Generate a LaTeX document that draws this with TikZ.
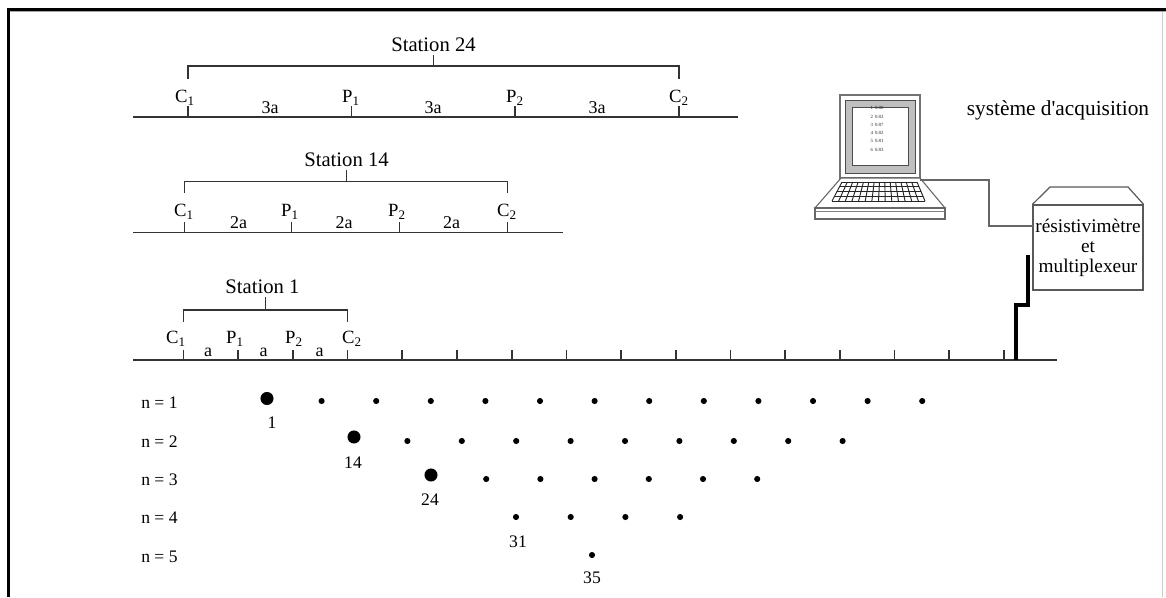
\documentclass[tikz,border=0pt]{standalone}
\usepackage{fontspec}
\setmainfont{Liberation Serif}[Ligatures=TeXOff]
\begin{document}
\begin{tikzpicture}[x=0.75pt,y=-0.75pt,
  ink/.style={draw=black!80, line width=1.3pt},
  stationlbl/.style={font=\fontsize{15.5}{17}\selectfont, inner sep=0pt, text=black},
  elec/.style={font=\fontsize{14}{16}\selectfont, inner sep=0pt, text=black},
  gap/.style={font=\fontsize{13.5}{15}\selectfont, inner sep=0pt, text=black},
  rowlbl/.style={font=\fontsize{13.2}{15}\selectfont, inner sep=0pt, text=black, anchor=west},
  numlbl/.style={font=\fontsize{13.2}{15}\selectfont, inner sep=0pt, text=black},
  bigdot/.style={circle, fill=black, inner sep=0pt, minimum size=9.8pt},
  smalldot/.style={circle, fill=black, inner sep=0pt, minimum size=4.6pt},
  cable/.style={draw=black, line width=3.6pt},
  wire/.style={draw=black!60, line width=0.9pt}
]
\useasboundingbox (0,0) rectangle (1166,597);

% frame
\draw[line width=2.4pt] (8.5,597) -- (8.5,9.5) -- (1166,9.5);
\draw[black!35, line width=0.6pt] (10,11.8) -- (1166,11.8);
\draw[black!20, line width=0.8pt] (1162.5,12) -- (1162.5,597);

% ---------- station 24 (spacing 3a) ----------
\draw[ink] (133,117) -- (738,117);
\foreach \x/\n in {188/A, 351.5/B, 515/C, 679/D}
  \draw[ink] (\x,106) -- (\x,117) coordinate (s24\n);
\draw[ink] (188,79) -- (188,66) -- (679,66) -- (679,79);
\draw[ink] (433.5,66) -- (433.5,55);
\node[stationlbl] (st24) at (433.5,45) {Station 24};
\node[elec] (s24c1) at (185,97.5) {C\textsubscript{1}};
\node[elec] (s24p1) at (351,97.5) {P\textsubscript{1}};
\node[elec] (s24p2) at (515,97.5) {P\textsubscript{2}};
\node[elec] (s24c2) at (679,97.5) {C\textsubscript{2}};
\node[gap] (s24a1) at (270,108) {3a};
\node[gap] (s24a2) at (433,108) {3a};
\node[gap] (s24a3) at (597,108) {3a};

% ---------- station 14 (spacing 2a) ----------
\draw[ink] (133,232.5) -- (563,232.5);
\foreach \x/\n in {184.5/A, 291.5/B, 399.5/C, 507.5/D}
  \draw[ink] (\x,222) -- (\x,232.5) coordinate (s14\n);
\draw[ink] (184.5,193) -- (184.5,181.5) -- (507.5,181.5) -- (507.5,193);
\draw[ink] (346.5,181.5) -- (346.5,170);
\node[stationlbl] (st14) at (346.5,160) {Station 14};
\node[elec] (s14c1) at (184,212) {C\textsubscript{1}};
\node[elec] (s14p1) at (290,212) {P\textsubscript{1}};
\node[elec] (s14p2) at (397,212) {P\textsubscript{2}};
\node[elec] (s14c2) at (507,212) {C\textsubscript{2}};
\node[gap] (s14a1) at (238.5,223) {2a};
\node[gap] (s14a2) at (344,223) {2a};
\node[gap] (s14a3) at (451.5,223) {2a};

% ---------- station 1 and the electrode line ----------
\draw[ink] (133,360) -- (1057,360);
\foreach \k in {0,...,15}
  \draw[ink] ({183.5+54.7*\k},350) -- ({183.5+54.7*\k},360) coordinate (e\k);
\draw[ink] (183.5,321.5) -- (183.5,310) -- (347.6,310) -- (347.6,321.5);
\draw[ink] (265.5,310) -- (265.5,297);
\node[stationlbl] (st1) at (262.5,287) {Station 1};
\node[elec] (s1c1) at (176,338.5) {C\textsubscript{1}};
\node[elec] (s1p1) at (235,338.5) {P\textsubscript{1}};
\node[elec] (s1p2) at (294,338.5) {P\textsubscript{2}};
\node[elec] (s1c2) at (352,338.5) {C\textsubscript{2}};
\node[gap] (s1a1) at (208,352) {a};
\node[gap] (s1a2) at (263.5,352) {a};
\node[gap] (s1a3) at (319.5,352) {a};

% ---------- pseudo-section points ----------
\foreach \n/\y in {1/403, 2/441.5, 3/479.5, 4/518, 5/556.5}
  \node[rowlbl] (row\n) at (141,\y) {n = \n};

\node[bigdot] (d1) at (267,398.5) {};
\foreach \k in {1,...,12} \node[smalldot] (r1\k) at ({267+54.6*\k},401) {};
\node[numlbl] (n1) at (272,423) {1};

\node[bigdot] (d14) at (354,437) {};
\foreach \k in {1,...,9} \node[smalldot] (r2\k) at ({353+54.4*\k},441) {};
\node[numlbl] (n14) at (353,463) {14};

\node[bigdot] (d24) at (431,475) {};
\foreach \k in {1,...,6} \node[smalldot] (r3\k) at ({432+54.2*\k},479) {};
\node[numlbl] (n24) at (430,500) {24};

\foreach \k in {0,...,3} \node[smalldot] (r4\k) at ({516+54.7*\k},517) {};
\node[numlbl] (n31) at (518,542) {31};

\node[smalldot] (r50) at (592,555) {};
\node[numlbl] (n35) at (592,578) {35};

% ---------- laptop ----------
\draw[draw=black!55, fill=white, line width=0.8pt] (840,95) rectangle (920,178);
\draw[draw=black!70, fill=black!25, line width=0.7pt] (845,100) rectangle (915,173);
\draw[draw=black!70, fill=white, line width=0.7pt] (852,107) rectangle (908,165);
\node[font=\fontsize{3.6}{6.2}\selectfont, align=left, inner sep=0pt, text=black!85] (screen) at (877,129)
  {1\, 0.80\\2\, 0.83\\3\, 0.87\\4\, 0.82\\5\, 0.81\\6\, 0.83};
\draw[draw=black!60, fill=white, line width=0.8pt] (841,178) -- (920,178) -- (945,208) -- (815,208) -- cycle;
\draw[draw=black!60, fill=white, line width=0.8pt] (815,208) rectangle (945,219);
\draw[draw=black!50, line width=0.5pt] (815,211.5) -- (945,211.5);
% keyboard grid
\foreach \i in {0,...,14}
  \draw[black!85, line width=0.7pt] ({842+75*\i/14},182) -- ({832+93*\i/14},201);
\foreach \j in {0,...,4}
  \draw[black!85, line width=0.7pt] ({842-10*\j/4},{182+19*\j/4}) -- ({917+8*\j/4},{182+19*\j/4});
\coordinate (lapR) at (920,180);

\node[font=\fontsize{16}{18}\selectfont, inner sep=0pt, text=black] (acq) at (1058,110) {système d'acquisition};

% ---------- resistivity meter / multiplexer ----------
\node[draw=black!65, line width=0.9pt, minimum width=82.5pt, minimum height=63.75pt,
      align=center, font=\fontsize{14.5}{15}\selectfont, inner sep=0pt, text=black] (box) at (1088,247.5)
  {résistivimètre\\et\\multiplexeur};
\draw[draw=black!65, line width=0.9pt] (box.north west) -- (1050,187) -- (1128,187) -- (box.north east);
\coordinate (boxin) at (1033,226);
\draw[wire] (lapR) -- (989,180) -- (989,226) -- (boxin);

% cable from the electrode line to the instrument
\coordinate (cabtop) at (1028,255);
\draw[cable] (1016,360) -- (1016,305) -- (1028,305) -- (cabtop);
\end{tikzpicture}
\end{document}
